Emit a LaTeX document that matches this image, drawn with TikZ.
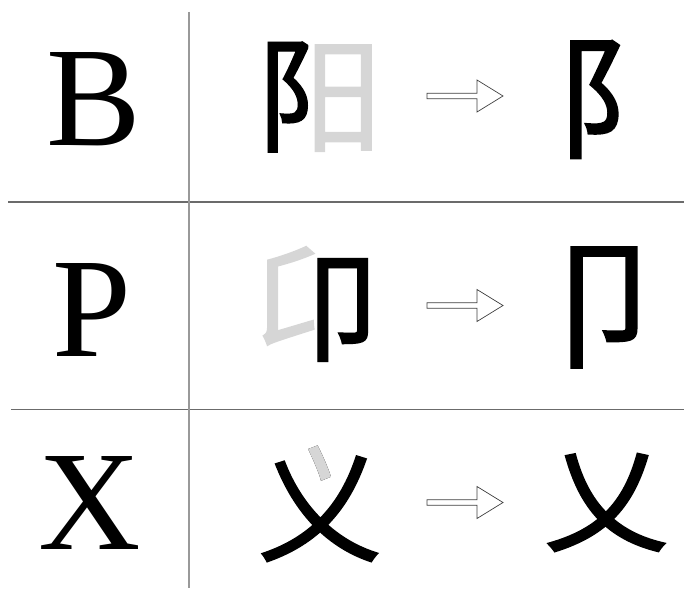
\documentclass[tikz,border=0pt]{standalone}
\usepackage{fontspec}
\setmainfont{Liberation Serif}
\newfontfamily\cjk[FakeBold=1.2]{Noto Sans CJK SC}
\tikzset{
  latin/.style={inner sep=0pt, font=\fontsize{142}{142}\selectfont},
  cjkblack/.style={inner sep=0pt, text=black, font=\cjk\fontsize{125}{125}\selectfont},
  cjkgray/.style={inner sep=0pt, text=black!16, font=\cjk\fontsize{125}{125}\selectfont},
  hline/.style={draw=black!58, line width=1.1pt},
  vline/.style={draw=black!40, line width=1.3pt},
  hollowarrow/.pic={
    \draw[draw=black!75, fill=white, line width=0.7pt, line join=miter]
      (-38,-2.7) -- (12,-2.7) -- (12,-16) -- (38,0) -- (12,16) -- (12,2.7) -- (-38,2.7) -- cycle;
  }
}
\begin{document}
\begin{tikzpicture}[x=1pt, y=-1pt]
\useasboundingbox (0,0) rectangle (684,588);
% grid lines
\coordinate (h1a) at (8,202);   \coordinate (h1b) at (684,202);
\coordinate (h2a) at (11,409.5); \coordinate (h2b) at (684,409.5);
\coordinate (va) at (189,12);   \coordinate (vb) at (189,588);
\draw[hline] (h1a) -- (h1b);
\draw[hline] (h2a) -- (h2b);
\draw[vline] (va) -- (vb);
% latin letters
\node[latin] (B) at (94,99) {B};
\node[latin] (P) at (92,310) {P};
\node[latin] (X) at (90,503) {X};
% row 1
\node[cjkgray] (yang) at (320,97) {阳};
\begin{scope}
  \clip (240,20) rectangle (308,175);
  \node[cjkblack] (yangL) at (320,97) {阳};
\end{scope}
\pic at (465,96) {hollowarrow};
\node[cjkblack, xscale=1.02, yscale=1.07] (fu) at (619,99.5) {阝};
% row 2
\node[cjkgray] (ang) at (315.5,304) {卬};
\begin{scope}
  \clip (317,230) rectangle (390,380);
  \node[cjkblack] (angR) at (315.5,304) {卬};
\end{scope}
\pic at (465,305.5) {hollowarrow};
\node[cjkblack, xscale=1.1, yscale=1.12] (jie) at (604,307.5) {卩};
% row 3
\node[cjkblack] (yi) at (320,504) {义};
\begin{scope}
  \clip (302,440) rectangle (335,488);
  \node[cjkgray] (yiDot) at (320,504) {义};
\end{scope}
\pic at (465,502.5) {hollowarrow};
\node[cjkblack, yscale=0.92] (ai) at (606,502.5) {乂};
\end{tikzpicture}
\end{document}
